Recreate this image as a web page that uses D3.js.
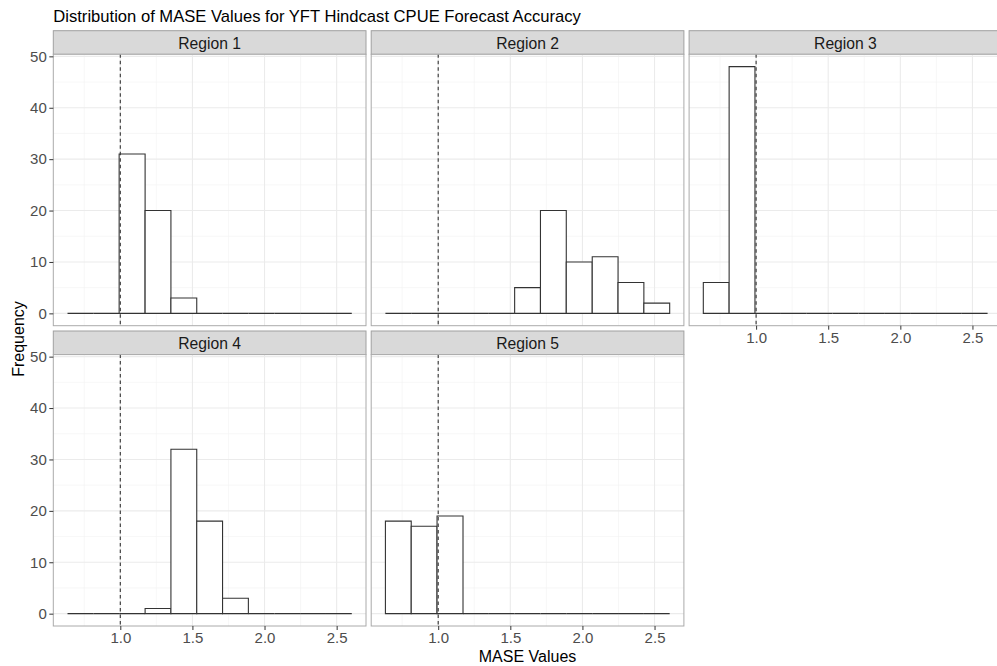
<!DOCTYPE html>
<html>
<head>
<meta charset="utf-8">
<script src="https://cdn.jsdelivr.net/npm/d3@7"></script>
<style>
  body { margin: 0; background: #fff; overflow: hidden; }
  svg { display: block; font-family: "Liberation Sans", Arial, sans-serif; }
</style>
</head>
<body>
<script>
const width = 997;
const height = 666;

// histogram bins (shared edges for every region)
const binEdges = [0.634, 0.813, 0.992, 1.172, 1.351, 1.530, 1.709, 1.888, 2.068, 2.247, 2.426, 2.605];

const regions = ["Region 1", "Region 2", "Region 3", "Region 4", "Region 5"];
const region1 = [0, 0, 31, 20, 3, 0, 0, 0, 0, 0, 0];
const region2 = [0, 0, 0, 0, 0, 5, 20, 10, 11, 6, 2];
const region3 = [6, 48, 0, 0, 0, 0, 0, 0, 0, 0, 0];
const region4 = [0, 0, 0, 1, 32, 18, 3, 0, 0, 0, 0];
const region5 = [18, 17, 19, 0, 0, 0, 0, 0, 0, 0, 0];
const counts = [region1, region2, region3, region4, region5];

const xTicks = [1.0, 1.5, 2.0, 2.5];
const xMinor = [0.75, 1.25, 1.75, 2.25];
const yTicks = [0, 10, 20, 30, 40, 50];
const yMinor = [5, 15, 25, 35, 45];
const refLine = 1.0;

const panelLeft = 53.3;
const panelW = 312.7;
const gap = 5.2;
const stripH = 23.6;
const rowTop = [30.7, 331];
const plotH = 271.4;

const svg = d3
  .select("body")
  .append("svg")
  .attr("width", width)
  .attr("height", height);

// shared scales, ggplot-like 5% expansion
const lo = binEdges[0];
const hi = binEdges[binEdges.length - 1];
const padX = (hi - lo) * 0.05;
const x = d3.scaleLinear().domain([lo - padX, hi + padX]).range([0, panelW]);

const yMax = d3.max(counts.flat());
const y = d3.scaleLinear().domain([-yMax * 0.05, yMax * 1.05]).range([plotH, 0]);

svg
  .append("text")
  .attr("x", panelLeft)
  .attr("y", 21.5)
  .attr("font-size", 16.6)
  .attr("fill", "#000")
  .text("Distribution of MASE Values for YFT Hindcast CPUE Forecast Accuracy");

// closed outline of one bin, so empty bins still show as a flat line
function binPath(d) {
  const p = d3.path();
  p.moveTo(x(d.x0), y(0));
  p.lineTo(x(d.x0), y(d.n));
  p.lineTo(x(d.x1), y(d.n));
  p.lineTo(x(d.x1), y(0));
  p.closePath();
  return p.toString();
}

regions.forEach((name, i) => {
  const col = i % 3;
  const row = Math.floor(i / 3);
  const px = panelLeft + col * (panelW + gap);
  const sy = rowTop[row];
  const py = sy + stripH;

  // strip
  svg
    .append("rect")
    .attr("x", px)
    .attr("y", sy)
    .attr("width", panelW)
    .attr("height", stripH)
    .attr("fill", "#D9D9D9")
    .attr("stroke", "#A0A0A0")
    .attr("stroke-width", 1);

  svg
    .append("text")
    .attr("x", px + panelW / 2)
    .attr("y", sy + 18.2)
    .attr("text-anchor", "middle")
    .attr("font-size", 15.7)
    .attr("fill", "#1A1A1A")
    .text(name);

  const g = svg.append("g").attr("transform", `translate(${px},${py})`);

  g.append("rect")
    .attr("width", panelW)
    .attr("height", plotH)
    .attr("fill", "#fff");

  // grid
  g.selectAll(".ymin")
    .data(yMinor)
    .join("line")
    .attr("x1", 0)
    .attr("x2", panelW)
    .attr("y1", (d) => y(d))
    .attr("y2", (d) => y(d))
    .attr("stroke", "#F2F2F2")
    .attr("stroke-width", 0.6);

  g.selectAll(".xmin")
    .data(xMinor)
    .join("line")
    .attr("x1", (d) => x(d))
    .attr("x2", (d) => x(d))
    .attr("y1", 0)
    .attr("y2", plotH)
    .attr("stroke", "#F2F2F2")
    .attr("stroke-width", 0.6);

  g.selectAll(".ymaj")
    .data(yTicks)
    .join("line")
    .attr("x1", 0)
    .attr("x2", panelW)
    .attr("y1", (d) => y(d))
    .attr("y2", (d) => y(d))
    .attr("stroke", "#EBEBEB")
    .attr("stroke-width", 1.1);

  g.selectAll(".xmaj")
    .data(xTicks)
    .join("line")
    .attr("x1", (d) => x(d))
    .attr("x2", (d) => x(d))
    .attr("y1", 0)
    .attr("y2", plotH)
    .attr("stroke", "#EBEBEB")
    .attr("stroke-width", 1.1);

  // histogram bars
  const bins = counts[i].map((c, k) => ({ x0: binEdges[k], x1: binEdges[k + 1], n: c }));
  g.selectAll(".bar")
    .data(bins)
    .join("path")
    .attr("d", binPath)
    .attr("fill", "#fff")
    .attr("stroke", "#333")
    .attr("stroke-width", 1.1);

  // reference line
  g.append("line")
    .attr("x1", x(refLine))
    .attr("x2", x(refLine))
    .attr("y1", 0)
    .attr("y2", plotH)
    .attr("stroke", "#333")
    .attr("stroke-width", 1.1)
    .attr("stroke-dasharray", "3.5,3");

  g.append("rect")
    .attr("width", panelW)
    .attr("height", plotH)
    .attr("fill", "none")
    .attr("stroke", "#AAAAAA")
    .attr("stroke-width", 1);

  // y axis on the left column
  if (col === 0) {
    const ya = g.append("g").call(d3.axisLeft(y).tickValues(yTicks).tickSize(4).tickPadding(2.5));
    ya.select(".domain").remove();
    ya.selectAll(".tick line").attr("stroke", "#333").attr("stroke-width", 1);
    ya.selectAll(".tick text")
      .attr("font-size", 15)
      .attr("fill", "#4D4D4D")
      .attr("font-family", "Liberation Sans, Arial, sans-serif");
  }

  // x axis under bottom panels
  if (row === 1 || col === 2) {
    const xa = g
      .append("g")
      .attr("transform", `translate(0,${plotH})`)
      .call(d3.axisBottom(x).tickValues(xTicks).tickFormat(d3.format(".1f")).tickSize(4).tickPadding(2.5));
    xa.select(".domain").remove();
    xa.selectAll(".tick line").attr("stroke", "#333").attr("stroke-width", 1);
    xa.selectAll(".tick text")
      .attr("font-size", 15)
      .attr("fill", "#4D4D4D")
      .attr("font-family", "Liberation Sans, Arial, sans-serif");
  }
});

// axis titles
const fullRight = panelLeft + 3 * panelW + 2 * gap;
svg
  .append("text")
  .attr("x", (panelLeft + fullRight) / 2)
  .attr("y", 661.5)
  .attr("text-anchor", "middle")
  .attr("font-size", 16)
  .attr("fill", "#000")
  .text("MASE Values");

svg
  .append("text")
  .attr("transform", `translate(24,339) rotate(-90)`)
  .attr("text-anchor", "middle")
  .attr("font-size", 16)
  .attr("fill", "#000")
  .text("Frequency");
</script>
</body>
</html>
